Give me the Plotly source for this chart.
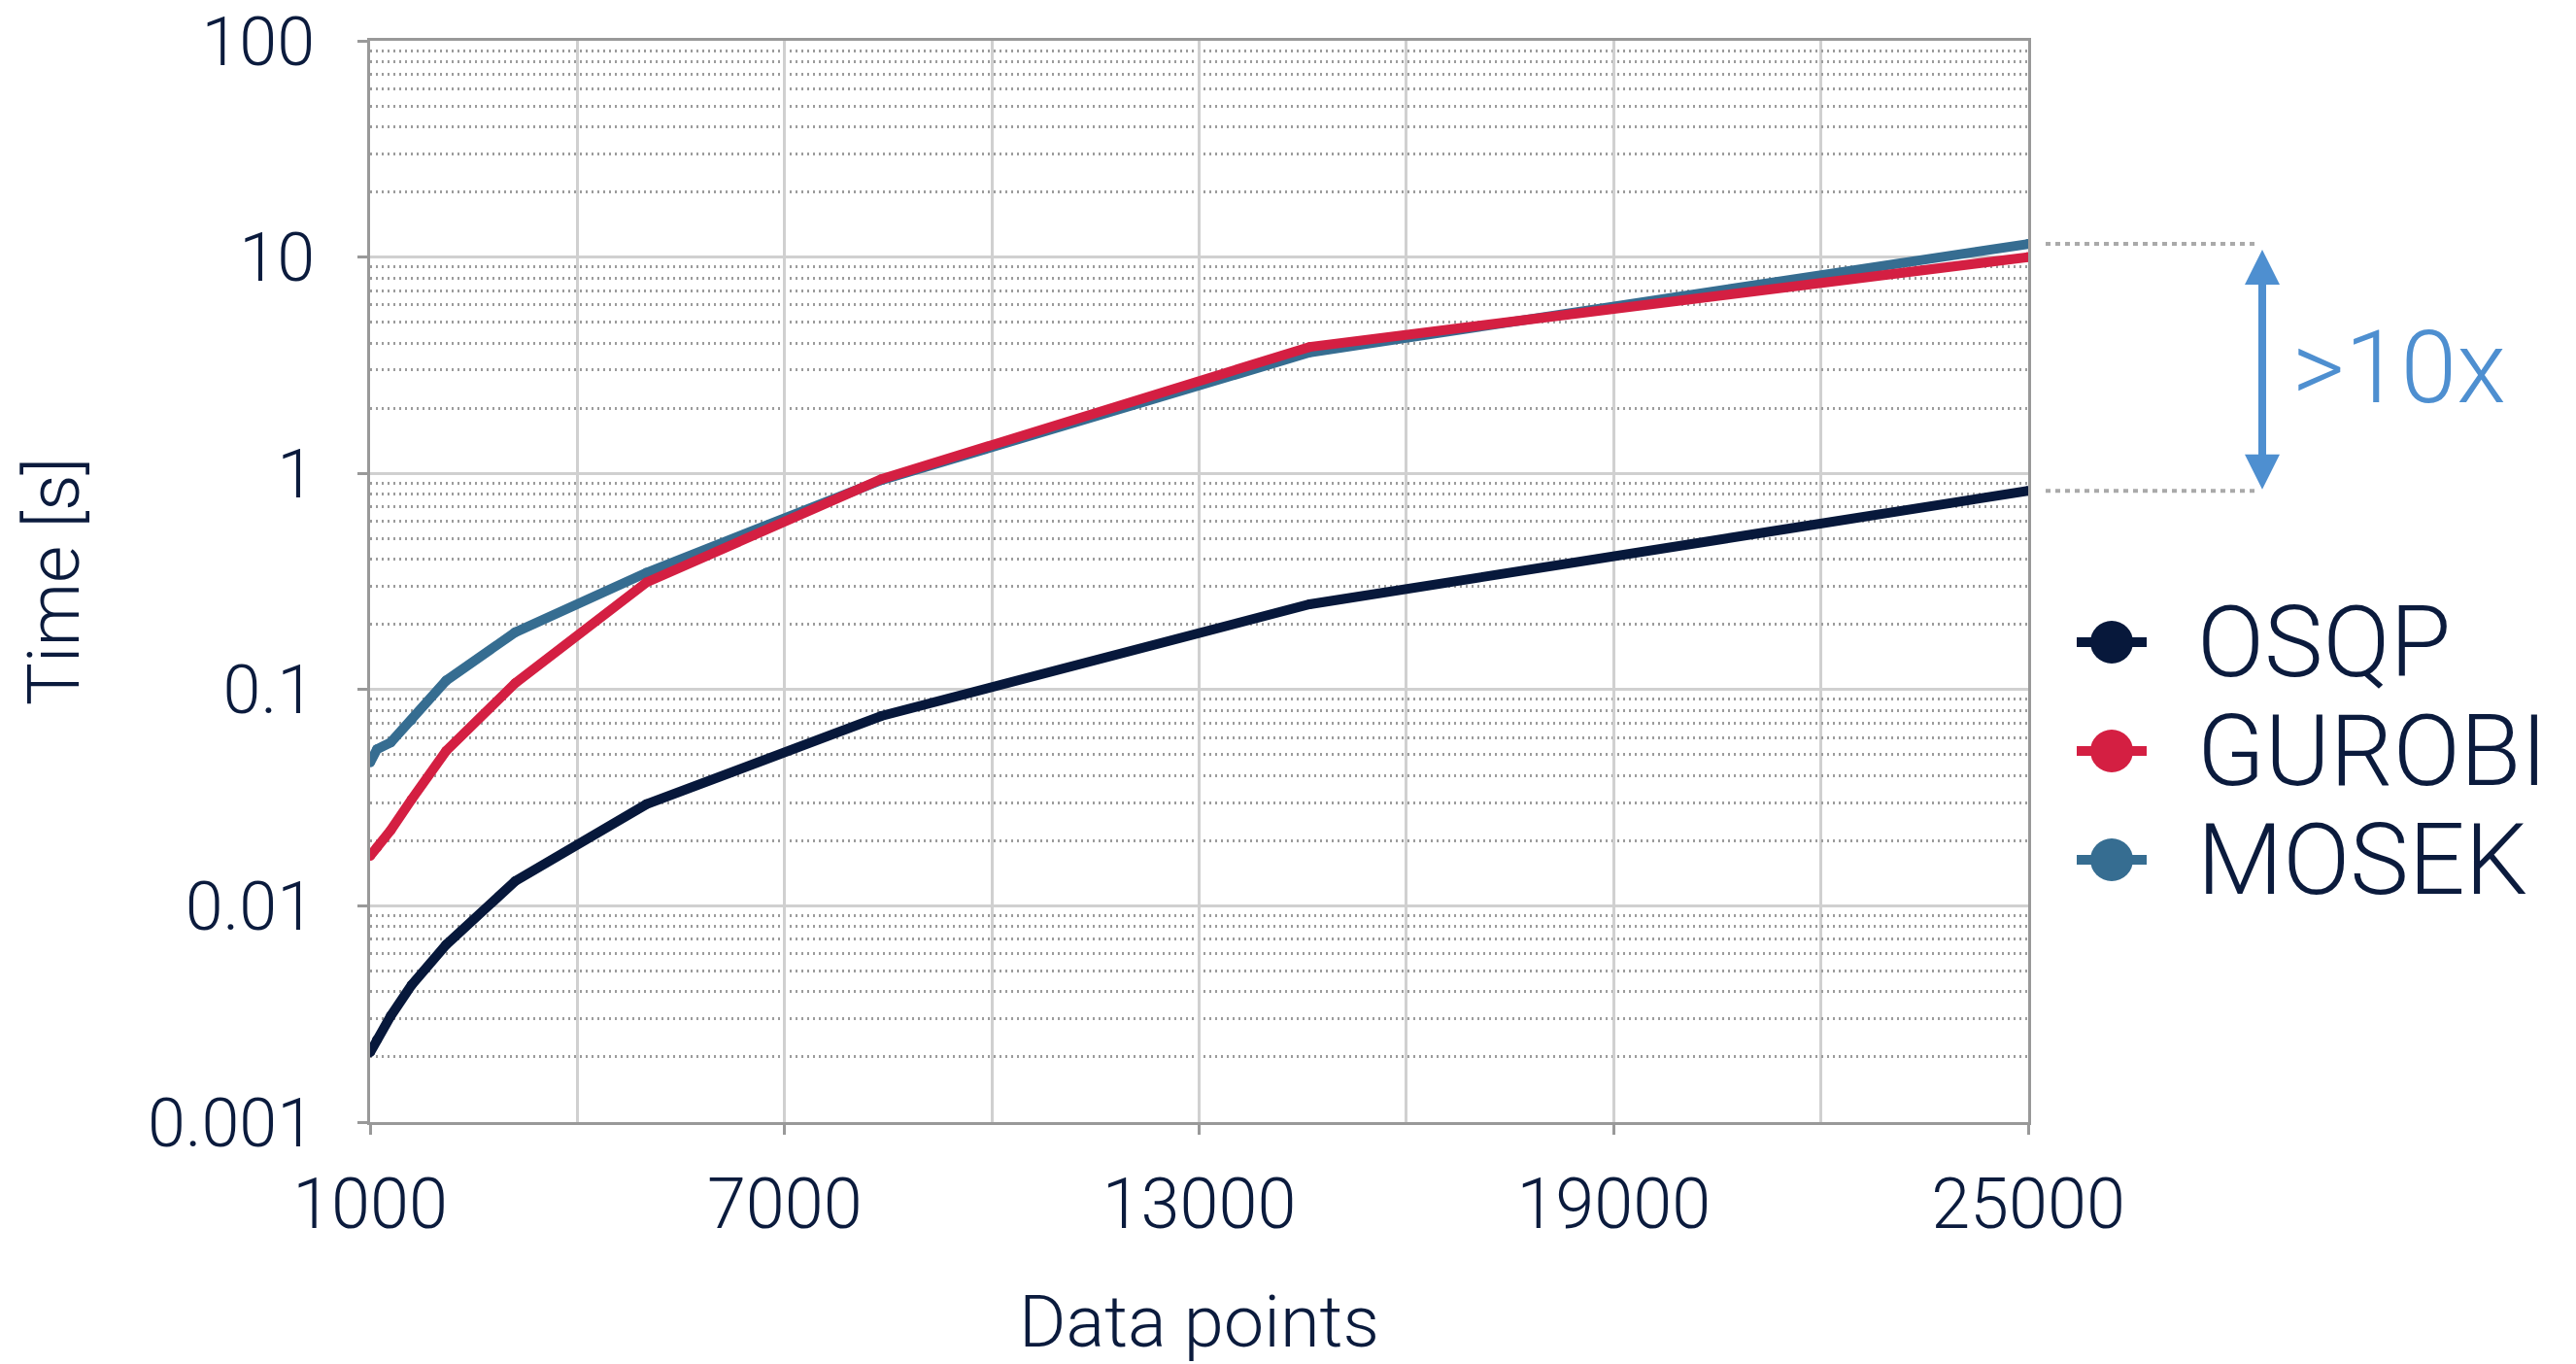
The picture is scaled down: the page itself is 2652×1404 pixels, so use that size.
import numpy as np
import plotly.graph_objects as go

# ---------------- data ----------------
data_points = [1000, 1100, 1300, 1600, 2100, 3100, 5000, 8400, 14600, 25000]
osqp = [0.0021, 0.0024, 0.0031, 0.0043, 0.0066, 0.0130, 0.0295, 0.0755, 0.248, 0.83]
gurobi = [0.0170, 0.0186, 0.0224, 0.0310, 0.0520, 0.107, 0.313, 0.94, 3.84, 10.0]
mosek = [0.0460, 0.0530, 0.0570, 0.0720, 0.110, 0.184, 0.347, 0.93, 3.62, 11.5]

series_names = ["OSQP", "GUROBI", "MOSEK"]
series_values = [osqp, gurobi, mosek]
series_colors = ["#07183b", "#d41f42", "#366d91"]

x_tick_vals = [1000, 7000, 13000, 19000, 25000]
x_tick_text = ["1000", "7000", "13000", "19000", "25000"]
y_tick_vals = [0.001, 0.01, 0.1, 1, 10, 100]
y_tick_text = ["0.001", "0.01", "0.1", "1", "10", "100"]
x_title = "Data points"
y_title = "Time [s]"
speedup_label = ">10x"

# ---------------- style ----------------
W, H = 2652, 1404
# plot area in screen pixels (page body margin removed by post_script)
SX0, SX1, SY0, SY1 = 381, 2088, 42, 1155
L, T = SX0, SY0
R, B = W - SX1, H - SY1
PW, PH = SX1 - SX0, SY1 - SY0
TEXT = "#0b1b3d"
FONT = "Roboto"
ACCENT = "#4e8fd0"
AXIS = "#999999"
GRID = "#d0d0d0"
MINOR = "#9c9c9c"


def px_to_paper_x(px):
    return (px - SX0) / PW


def px_to_paper_y(py):
    return (SY1 - py) / PH


fig = go.Figure()

# draw order: MOSEK under GUROBI under OSQP
for idx in [2, 1, 0]:
    fig.add_trace(go.Scatter(
        x=data_points, y=series_values[idx], name=series_names[idx],
        mode="lines+markers",
        line=dict(color=series_colors[idx], width=10),
        marker=dict(color=series_colors[idx], size=10),
        showlegend=False,
    ))

fig.update_xaxes(
    range=[1000, 25000], tickvals=x_tick_vals, ticktext=x_tick_text,
    ticks="outside", ticklen=10, tickwidth=3, tickcolor=AXIS,
    showline=True, linecolor=AXIS, linewidth=3, mirror=True,
    showgrid=True, gridcolor=GRID, gridwidth=2.5, zeroline=False,
    minor=dict(tick0=1000, dtick=3000, showgrid=True, gridcolor=GRID,
               gridwidth=2.5, ticks=""),
    tickfont=dict(family=FONT, size=72, color=TEXT, weight=300),
    ticklabelstandoff=10, ticklabeloverflow="allow",
    title=dict(text=x_title, font=dict(family=FONT, size=74, color=TEXT, weight=300),
               standoff=56),
    automargin=False,
)
fig.update_yaxes(
    type="log", range=[-3, 2], tickvals=y_tick_vals, ticktext=y_tick_text,
    ticks="outside", ticklen=10, tickwidth=3, tickcolor=AXIS,
    showline=True, linecolor=AXIS, linewidth=3, mirror=True,
    showgrid=True, gridcolor=GRID, gridwidth=2.5, zeroline=False,
    minor=dict(dtick="D1", showgrid=True, gridcolor=MINOR, gridwidth=2.5,
               griddash="2px,4px", ticks=""),
    tickfont=dict(family=FONT, size=70, color=TEXT, weight=300),
    ticklabelstandoff=30, ticklabeloverflow="allow",
    title=dict(text=y_title, font=dict(family=FONT, size=74, color=TEXT, weight=300),
               standoff=47),
    automargin=False,
)

shapes = []
annotations = []

# dotted guide lines from the last MOSEK / OSQP values
for v in [mosek[-1], osqp[-1]]:
    shapes.append(dict(type="line", xref="paper", yref="y",
                       x0=px_to_paper_x(2106), x1=px_to_paper_x(2321), y0=v, y1=v,
                       line=dict(color="#aaaaaa", width=4, dash="5px,5px")))

# double-headed arrow between them
annotations.append(dict(
    xref="paper", yref="y", x=px_to_paper_x(2329), y=np.log10(mosek[-1]),
    axref="pixel", ayref="y", ax=0, ay=np.log10(osqp[-1]),
    text="", showarrow=True, arrowhead=2, startarrowhead=2, arrowside="end+start",
    arrowwidth=8, arrowsize=0.9, startarrowsize=0.9, arrowcolor=ACCENT,
    standoff=6, startstandoff=0,
))
annotations.append(dict(
    xref="paper", yref="y", x=px_to_paper_x(2358),
    y=(np.log10(mosek[-1]) + np.log10(osqp[-1])) / 2,
    xanchor="left", yanchor="middle", showarrow=False, text=speedup_label,
    font=dict(family=FONT, size=104, color=ACCENT, weight=300),
))

# custom legend
legend_y_px = [661, 773, 885]
for name, color, ypx in zip(series_names, series_colors, legend_y_px):
    xa, ya = px_to_paper_x(2174), px_to_paper_y(ypx)
    shapes.append(dict(type="line", xref="paper", yref="paper",
                       xsizemode="pixel", ysizemode="pixel", xanchor=xa, yanchor=ya,
                       x0=-36, x1=36, y0=0, y1=0, line=dict(color=color, width=10)))
    shapes.append(dict(type="circle", xref="paper", yref="paper",
                       xsizemode="pixel", ysizemode="pixel", xanchor=xa, yanchor=ya,
                       x0=-22, x1=22, y0=-22, y1=22, fillcolor=color,
                       line=dict(width=0)))
    annotations.append(dict(xref="paper", yref="paper", x=px_to_paper_x(2260), y=ya,
                            xanchor="left", yanchor="middle", showarrow=False, text=name,
                            font=dict(family=FONT, size=102, color=TEXT, weight=300)))

fig.update_layout(
    width=W, height=H, margin=dict(l=L, r=R, t=T, b=B, pad=0),
    paper_bgcolor="white", plot_bgcolor="white",
    showlegend=False, shapes=shapes, annotations=annotations,
    font=dict(family=FONT, color=TEXT),
)

fig.write_html("out.html",
               config={"displayModeBar": False},
               post_script="document.body.style.margin='0px';document.body.style.overflow='hidden';")
